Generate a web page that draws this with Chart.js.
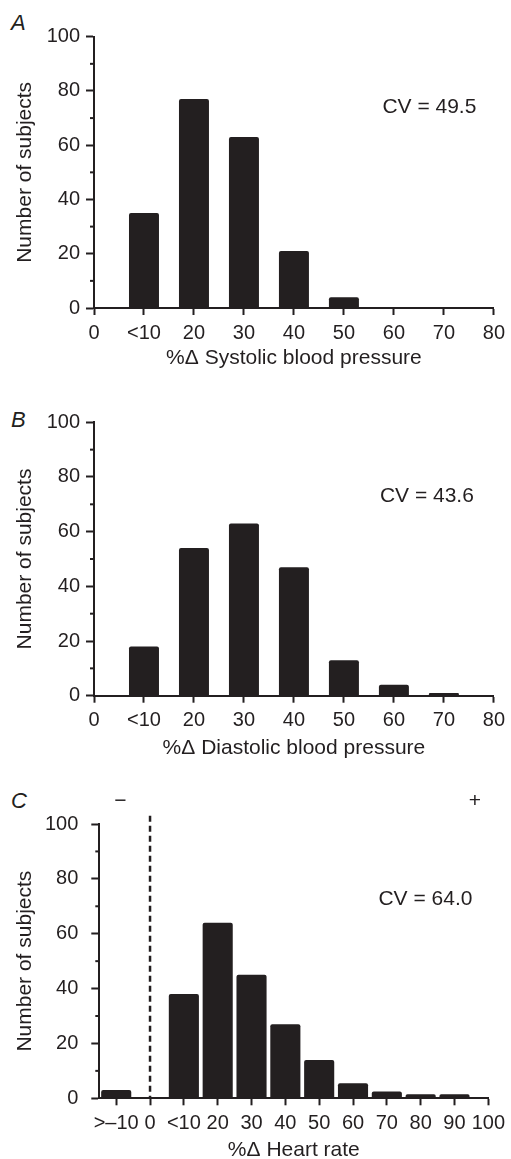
<!DOCTYPE html>
<html>
<head>
<meta charset="utf-8">
<script src="https://cdn.jsdelivr.net/npm/chart.js@4"></script>
<style>
  body { margin: 0; background: #fff; width: 511px; height: 1159px; position: relative; overflow: hidden; }
  .panel { position: absolute; left: 0; width: 511px; }
  .letter { position: absolute; left: 11px; font: italic 22px/22px "Liberation Sans", Arial, sans-serif; color: #231f20; }
</style>
</head>
<body>
<div class="letter" style="top:12px">A</div>
<div class="letter" style="top:409px">B</div>
<div class="letter" style="top:790px">C</div>
<div class="panel" style="top:0;height:372px"><canvas id="chartA"></canvas></div>
<div class="panel" style="top:376px;height:385px"><canvas id="chartB"></canvas></div>
<div class="panel" style="top:765px;height:400px"><canvas id="chartC"></canvas></div>

<script>
// tick labels along x, the bins that have a bar, and the counts per bin
const xTicksA = ['0', '<10', '20', '30', '40', '50', '60', '70', '80'];
const binsA = ['<10', '20', '30', '40', '50', '60', '70'];
const countsA = [35, 77, 63, 21, 4, 0, 0];

const xTicksB = ['0', '<10', '20', '30', '40', '50', '60', '70', '80'];
const binsB = ['<10', '20', '30', '40', '50', '60', '70'];
const countsB = [18, 54, 63, 47, 13, 4, 1];

const xTicksC = ['>–10', '0', '<10', '20', '30', '40', '50', '60', '70', '80', '90', '100'];
const binsC = ['>–10', '<10', '20', '30', '40', '50', '60', '70', '80', '90'];
const countsC = [3, 38, 64, 45, 27, 14, 5.5, 2.5, 1.5, 1.5];

const yTicks = [0, 20, 40, 60, 80, 100];
const cvA = 'CV = 49.5';
const cvB = 'CV = 43.6';
const cvC = 'CV = 64.0';

const ink = '#231f20';
const fontFam = '"Liberation Sans", Arial, sans-serif';
Chart.defaults.font.family = fontFam;
Chart.defaults.color = ink;

// minor y ticks + free text (CV, signs), placed through the chart scales
const extras = {
  id: 'extras',
  afterDraw(chart, args, opts) {
    const { ctx, chartArea, scales: { x, y } } = chart;
    ctx.save();
    ctx.strokeStyle = ink;
    ctx.lineWidth = 2;
    for (let i = 1; i < yTicks.length; i++) {
      const py = y.getPixelForValue((yTicks[i - 1] + yTicks[i]) / 2);
      ctx.beginPath();
      ctx.moveTo(chartArea.left - 4, py);
      ctx.lineTo(chartArea.left, py);
      ctx.stroke();
    }
    ctx.fillStyle = ink;
    ctx.font = '21px ' + fontFam;
    ctx.textBaseline = 'middle';
    (opts.notes || []).forEach(n => {
      ctx.textAlign = n.align || 'center';
      ctx.fillText(n.text, x.getPixelForValue(n.x), y.getPixelForValue(n.y));
    });
    ctx.restore();
  }
};

function makePanel(id, p) {
  const datasets = [{
    data: p.bins.map((b, i) => ({ x: p.xTicks.indexOf(b), y: p.counts[i] })),
    backgroundColor: ink,
    borderRadius: 2,
    barPercentage: p.barPct,
    categoryPercentage: 1
  }];
  if (p.split !== undefined) {
    datasets.push({
      type: 'line',
      data: [{ x: p.split, y: 103 }, { x: p.split, y: 0 }],
      borderColor: ink,
      borderWidth: 2.5,
      borderDash: [6, 4],
      pointRadius: 0,
      clip: false
    });
  }

  return new Chart(document.getElementById(id), {
    type: 'bar',
    data: { datasets },
    options: {
      responsive: true,
      maintainAspectRatio: false,
      animation: false,
      layout: { padding: { top: p.padTop, right: p.padRight, left: 0, bottom: 0 } },
      plugins: {
        legend: { display: false },
        tooltip: { enabled: false },
        extras: { notes: p.notes }
      },
      scales: {
        x: {
          type: 'linear',
          min: p.xMin,
          max: p.xTicks.length - 1,
          offset: false,
          afterBuildTicks: s => { s.ticks = p.xTicks.map((t, i) => ({ value: i })); },
          afterFit: s => { s.height = p.xHeight; },
          ticks: { autoSkip: false, maxRotation: 0, padding: 6, font: { size: 20 }, callback: v => p.xTicks[v] },
          grid: { offset: false, drawOnChartArea: false, tickLength: 7, tickWidth: 2, color: ink },
          border: { color: ink, width: 2 },
          title: { display: true, text: p.xTitle, font: { size: 21 }, padding: { top: 0, bottom: p.xTitlePad } }
        },
        y: {
          min: 0,
          max: 100,
          afterBuildTicks: s => { s.ticks = yTicks.map(v => ({ value: v })); },
          afterFit: s => { s.width = p.yWidth; },
          ticks: { padding: p.yTickPad, font: { size: 20 } },
          grid: { drawOnChartArea: false, tickLength: 8, tickWidth: 2, color: ink },
          border: { color: ink, width: 2 },
          title: { display: true, text: 'Number of subjects', font: { size: 21 }, padding: { top: 12.7, bottom: 0 } }
        }
      }
    },
    plugins: [extras]
  });
}

makePanel('chartA', {
  xTicks: xTicksA, bins: binsA, counts: countsA, xMin: 0, barPct: 0.6,
  padTop: 36.7, padRight: 17, yWidth: 94, xHeight: 64, xTitlePad: 0.7, yTickPad: 6,
  xTitle: '%Δ Systolic blood pressure',
  notes: [{ text: cvA, x: 7.65, y: 74, align: 'right' }]
});

makePanel('chartB', {
  xTicks: xTicksB, bins: binsB, counts: countsB, xMin: 0, barPct: 0.6,
  padTop: 46.3, padRight: 13.3, yWidth: 94, xHeight: 65.3, xTitlePad: 0.4, yTickPad: 6,
  xTitle: '%Δ Diastolic blood pressure',
  notes: [{ text: cvB, x: 7.6, y: 72.8, align: 'right' }]
});

makePanel('chartC', {
  xTicks: xTicksC, bins: binsC, counts: countsC, xMin: -0.5, barPct: 0.89, split: 1,
  padTop: 59, padRight: 19, yWidth: 99.3, xHeight: 66.7, xTitlePad: 1.9, yTickPad: 13,
  xTitle: '%Δ Heart rate',
  notes: [
    { text: cvC, x: 10.53, y: 72.5, align: 'right' },
    { text: '−', x: 0.12, y: 108.4 },
    { text: '+', x: 10.6, y: 108.4 }
  ]
});
</script>
</body>
</html>
